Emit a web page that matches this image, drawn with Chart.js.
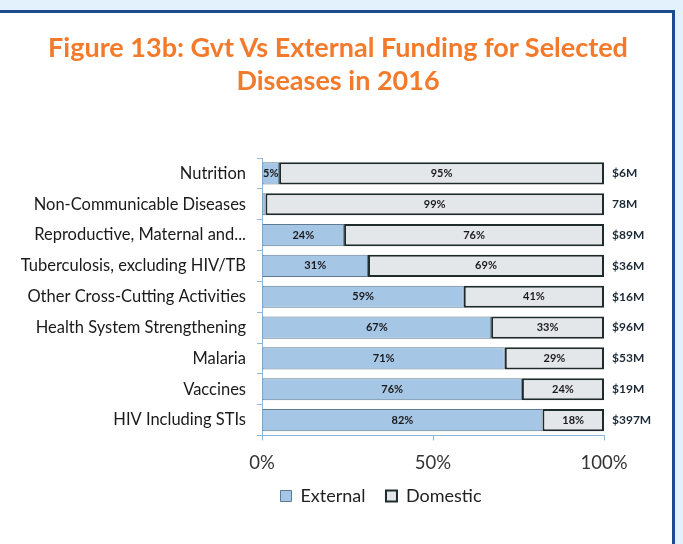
<!DOCTYPE html>
<html>
<head>
<meta charset="utf-8">
<script src="https://cdn.jsdelivr.net/npm/chart.js@4"></script>
<style>
  html, body { margin: 0; padding: 0; overflow: hidden; background: #fff; }
  #wrap { position: relative; width: 683px; height: 544px; overflow: hidden; }
  #topStrip { position: absolute; left: 0; top: 0; width: 683px; height: 10px; background: #e2f1fb; z-index: 2; }
  #topLine { position: absolute; left: 0; top: 10px; width: 675px; height: 3px; background: #1d4c8e; z-index: 2; }
  #rightLine { position: absolute; left: 672px; top: 10px; width: 3px; height: 534px; background: #1d4c8e; z-index: 2; }
  #rightStrip { position: absolute; left: 675px; top: 0; width: 8px; height: 544px; background: #e2f1fb; z-index: 2; }
  #title { position: absolute; left: 0; top: 30px; width: 676px; text-align: center;
           font: bold 27px Lato, sans-serif; line-height: 33px; color: #f47a2b; z-index: 3; }
  #chart { position: absolute; left: 0; top: 0; }
</style>
</head>
<body>
<div id="wrap">
  <div id="topStrip"></div>
  <div id="topLine"></div>
  <div id="rightLine"></div>
  <div id="rightStrip"></div>
  <div id="title">Figure 13b: Gvt Vs External Funding for Selected<br>Diseases in 2016</div>
  <canvas id="chart" width="762" height="544"></canvas>
</div>
<script>
// values
const categories = ['Nutrition', 'Non-Communicable Diseases', 'Reproductive, Maternal and...',
    'Tuberculosis, excluding HIV/TB', 'Other Cross-Cutting Activities', 'Health System Strengthening',
    'Malaria', 'Vaccines', 'HIV Including STIs'];
const externalShare = [5, 1, 24, 31, 59, 67, 71, 76, 82];
const domesticShare = [95, 99, 76, 69, 41, 33, 29, 24, 18];
const totals = ['$6M', '78M', '$89M', '$36M', '$16M', '$96M', '$53M', '$19M', '$397M'];
const xTicks = [0, 50, 100];

const barLabels = {
    id: 'barLabels',
    afterDatasetsDraw(chart) {
        const ctx = chart.ctx;
        ctx.save();
        ctx.font = 'bold 11px Lato, sans-serif';
        ctx.fillStyle = '#1a1a1a';
        ctx.textAlign = 'center';
        ctx.textBaseline = 'middle';
        chart.data.datasets.forEach((ds, i) => {
            chart.getDatasetMeta(i).data.forEach((bar, j) => {
                const v = ds.data[j];
                if (v < 3) return;
                ctx.fillText(v + '%', (bar.x + bar.base) / 2, bar.y);
            });
        });
        ctx.restore();
    }
};

new Chart(document.getElementById('chart'), {
    type: 'bar',
    data: {
        labels: categories,
        datasets: [{
            label: 'External',
            data: externalShare,
            backgroundColor: '#a6c6e6',
            borderColor: '#5f7b92',
            borderWidth: 1,
            borderSkipped: false,
            categoryPercentage: 1,
            barPercentage: 0.72
        }, {
            label: 'Domestic',
            data: domesticShare,
            backgroundColor: '#e4e7ea',
            borderColor: '#1f2b2b',
            borderWidth: 2,
            borderSkipped: false,
            categoryPercentage: 1,
            barPercentage: 0.72
        }]
    },
    options: {
        indexAxis: 'y',
        responsive: false,
        animation: false,
        layout: { padding: { top: 158, bottom: 29, left: 0, right: 0 } },
        plugins: {
            title: { display: false },
            tooltip: { enabled: false },
            legend: {
                position: 'bottom',
                labels: {
                    boxWidth: 11,
                    boxHeight: 11,
                    padding: 2,
                    color: '#222',
                    font: { family: 'Lato, sans-serif', size: 18 },
                    // a little extra room between the two entries
                    generateLabels: chart => Chart.defaults.plugins.legend.labels.generateLabels(chart)
                        .map((item, i, all) => i < all.length - 1 ? { ...item, text: item.text + '    ' } : item)
                }
            }
        },
        scales: {
            x: {
                stacked: true,
                min: 0,
                max: 100,
                afterBuildTicks: s => { s.ticks = xTicks.map(v => ({ value: v })); },
                grid: { drawOnChartArea: false, tickLength: 5, color: '#8db6da' },
                border: { color: '#8db6da' },
                ticks: {
                    padding: 13,
                    color: '#333',
                    font: { family: 'Lato, sans-serif', size: 18.5, lineHeight: 1 },
                    callback: v => v + '%'
                }
            },
            y: {
                stacked: true,
                afterFit: s => { s.width = 262; },
                grid: { drawOnChartArea: false, tickLength: 5, color: '#8db6da' },
                border: { color: '#8db6da' },
                ticks: {
                    padding: 11,
                    color: '#1a1a1a',
                    font: { family: 'Lato, sans-serif', size: 16.5 }
                }
            },
            y2: {
                type: 'category',
                labels: totals,
                position: 'right',
                offset: true,
                afterFit: s => { s.width = 158; },
                grid: { display: false },
                border: { display: false },
                ticks: {
                    padding: 0,
                    color: '#1c2a36',
                    font: { family: 'Lato, sans-serif', size: 12, weight: 'bold' }
                }
            }
        }
    },
    plugins: [barLabels]
});
</script>
</body>
</html>
